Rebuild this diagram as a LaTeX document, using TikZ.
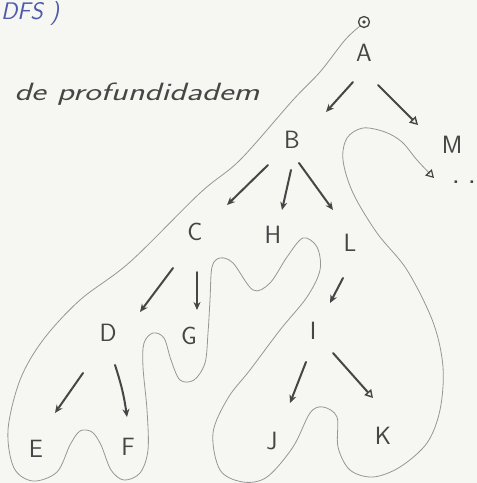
\documentclass[tikz,border=0pt]{standalone}
\usetikzlibrary{arrows.meta,calc}
\definecolor{paper}{RGB}{246,247,243}
\definecolor{pencil}{RGB}{70,70,70}
\definecolor{lightpencil}{RGB}{150,150,150}
\definecolor{ink}{RGB}{80,90,170}
\tikzset{
  lbl/.style={font=\sffamily\fontsize{25}{27}\selectfont, text=pencil, inner sep=0pt},
  edge/.style={draw=pencil, line width=2pt, line cap=round, -{Stealth[length=8pt,width=7pt]}},
  edgeopen/.style={draw=pencil, line width=2pt, line cap=round, -{Triangle[open,length=8pt,width=9pt,line width=1.4pt]}},
  tour/.style={draw=lightpencil, line width=0.8pt},
}
\begin{document}
\begin{tikzpicture}[x=1pt,y=-1pt]
\fill[paper] (0,0) rectangle (477,483);
\useasboundingbox (0,0) rectangle (477,483);

% header texts
\node[anchor=west, text=ink, font=\sffamily\itshape\fontsize{24}{26}\selectfont, inner sep=0pt] (title) at (1,14) {DFS )};
\node[anchor=west, text=pencil, font=\sffamily\itshape\fontsize{25}{27}\selectfont, inner sep=0pt, xscale=1.4] (sub) at (14,94) {de profundidadem};

% start marker
\node[circle, draw=pencil, line width=1.3pt, inner sep=0pt, minimum size=11pt] (start) at (364,22) {};
\fill[pencil] (start) circle (1.8pt);

% nodes
\node[lbl] (A) at (364,53) {A};
\node[lbl] (B) at (292,140) {B};
\node[lbl] (M) at (452,145) {M};
\node[lbl] (C) at (195,232) {C};
\node[lbl] (H) at (273,235) {H};
\node[lbl] (L) at (350,243) {L};
\node[lbl] (D) at (108,333) {D};
\node[lbl] (G) at (189,336) {G};
\node[lbl] (I) at (313,331) {I};
\node[lbl] (E) at (36,449) {E};
\node[lbl] (F) at (128,447) {F};
\node[lbl] (J) at (272,441) {J};
\node[lbl] (K) at (383,436) {K};
\node[lbl, font=\sffamily\bfseries\fontsize{20}{22}\selectfont] (dots) at (464,182) {. .};

% tree edges
\draw[edge] ($(A)+(-11,29)$) -- ($(B)+(34,-28)$);
\draw[edgeopen] ($(A)+(14,32)$) -- ($(M)+(-34,-20)$);
\draw[edge] ($(B)+(-24,25)$) -- ($(C)+(32,-27)$);
\draw[edge] ($(B)+(-1,30)$) -- ($(H)+(9,-25)$);
\draw[edge] ($(B)+(7,23)$) -- ($(L)+(-17,-33)$);
\draw[edge] ($(C)+(-22,36)$) -- ($(D)+(32,-21)$);
\draw[edge] ($(C)+(2,40)$) -- ($(G)+(8,-26)$);
\draw[edge] ($(L)+(-7,35)$) -- ($(I)+(17,-28)$);
\draw[edge] ($(D)+(-25,40)$) -- ($(E)+(19,-36)$);
\draw[edge] ($(D)+(7,32)$) to[bend left=5] ($(F)+(-1,-30)$);
\draw[edge] ($(I)+(-7,31)$) -- ($(J)+(18,-38)$);
\draw[edgeopen] ($(I)+(20,22)$) -- ($(K)+(-10,-38)$);

% depth-first tour
\coordinate (tourend) at (434,178);
\draw[tour, -{Triangle[open,length=8pt,width=9pt,line width=1.2pt,color=pencil]}] plot[smooth, tension=0.55] coordinates {
 (start.225) (345,40) (320,72) (293,100) (240,160) (200,193) (130,262) (80,300)
 (43,340) (20,380) (8,430) (14,468) (33,481) (57,472) (70,445) (80,431) (92,432)
 (101,445) (111,470) (124,480) (140,473) (148,450) (147,410) (143,367) (144,343)
 (153,333) (164,338) (171,360) (180,380) (194,380) (205,363) (208,333) (210,300)
 (212,267) (220,258) (233,263) (253,290) (270,283) (287,257) (303,238) (317,247)
 (320,270) (307,297) (280,330) (250,370) (228,398) (213,433) (220,470) (243,482)
 (267,477) (293,447) (310,413) (323,407) (337,417) (338,447) (350,470) (373,477)
 (400,467) (427,443) (440,410) (443,367) (433,322) (407,270) (377,233) (353,193)
 (343,160) (347,138) (363,128) (385,132) (402,142) (417,160) (tourend)};
\end{tikzpicture}
\end{document}
